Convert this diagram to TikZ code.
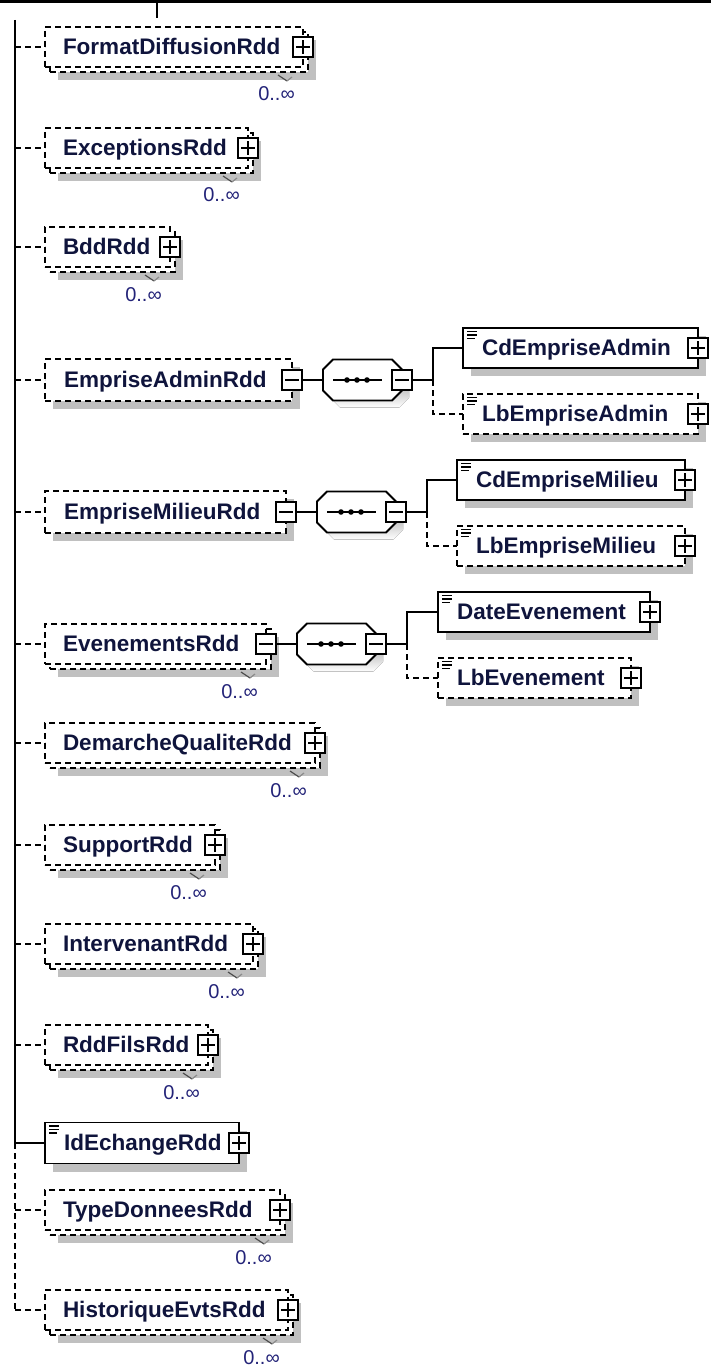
\documentclass[tikz,border=0pt]{standalone}
\usepackage{fontspec}
\setmainfont{Liberation Sans}
\usetikzlibrary{calc}
\definecolor{txt}{RGB}{15,20,60}
\definecolor{multc}{RGB}{35,35,120}
\definecolor{shade}{RGB}{192,192,192}
\tikzset{
 box/.style={draw=black, fill=white, line width=1.8pt, inner sep=0pt, outer sep=0pt, rectangle},
 dbox/.style={box, dash pattern=on 6pt off 4pt},
 sbox/.style={fill=shade, draw=none, inner sep=0pt, outer sep=0pt, rectangle},
 lbl/.style={font=\bfseries\fontsize{22.5}{26}\selectfont, text=txt, inner sep=0pt, outer sep=0pt, text height=19pt, text depth=4pt},
 multlbl/.style={font=\fontsize{20}{22}\selectfont, text=multc, inner sep=0pt, text height=14pt, text depth=0pt},
 btn/.style={draw=black, fill=white, line width=1.6pt, minimum size=20pt, inner sep=0pt, outer sep=0pt, rectangle},
 minusbtn/.style={btn, path picture={\draw[line width=1.5pt] ([xshift=-7pt]path picture bounding box.center) -- ([xshift=7pt]path picture bounding box.center);}},
 plusbtn/.style={btn, path picture={\draw[line width=1.5pt] ([xshift=-7pt]path picture bounding box.center) -- ([xshift=7pt]path picture bounding box.center); \draw[line width=1.5pt] ([yshift=-7pt]path picture bounding box.center) -- ([yshift=7pt]path picture bounding box.center);}},
 conn/.style={line width=2pt},
 dconn/.style={conn, dash pattern=on 6pt off 4pt},
 spinew/.style={line width=2.4pt},
}
% multi-occurrence element: name, L, R, c, text, button style
\newcommand\multielem[6]{%
 \pgfmathsetmacro\elW{#3-#2}\pgfmathsetmacro\elX{(#2+#3)/2}%
 \node[sbox,minimum width=\elW pt,minimum height=40pt] (#1-sh) at (\elX+13,#4+13) {};
 \node[dbox,minimum width=\elW pt,minimum height=40pt] (#1-bk) at (\elX+5,#4+5) {};
 \node[dbox,minimum width=\elW pt,minimum height=40pt] (#1) at (\elX,#4) {};
 \node[lbl,anchor=west] (#1-t) at (#2+18,#4) {#5};
 \node[#6] (#1-b) at (#1.east) {};
 \node[multlbl,anchor=east] (#1-m) at (#3-8,#4+47) {0..∞};
 \draw[line width=1.2pt, black!70] ([shift={(-30,3)}]#1-bk.south east) -- ([shift={(-21,9)}]#1-bk.south east);
 \draw[line width=1.2pt, black!45] ([shift={(-21,9)}]#1-bk.south east) -- ([shift={(-16,5)}]#1-bk.south east);
}
% single element: name, L, R, c, text, box style, button style, height
\newcommand\singleelem[8]{%
 \pgfmathsetmacro\elW{#3-#2}\pgfmathsetmacro\elX{(#2+#3)/2}%
 \node[sbox,minimum width=\elW pt,minimum height=#8pt] (#1-sh) at (\elX+8,#4+8) {};
 \node[#6,minimum width=\elW pt,minimum height=#8pt] (#1) at (\elX,#4) {};
 \node[lbl,anchor=west] (#1-t) at (#2+19,#4) {#5};
 \node[#7] (#1-b) at (#1.east) {};
}
\newcommand\simpleicon[1]{%
 \draw[line width=1.1pt] ([shift={(4,3.5)}]#1.north west) -- ++(10,0);
 \draw[line width=1.1pt] ([shift={(4,7)}]#1.north west) -- ++(10,0);
 \draw[line width=1.1pt] ([shift={(4,10.5)}]#1.north west) -- ++(8,0);
}
\newcommand\octpath[3]{([shift={(10+#2,#3)}]#1.north west) -- ([shift={(-10+#2,#3)}]#1.north east) -- ([shift={(#2,10+#3)}]#1.north east) -- ([shift={(#2,-10+#3)}]#1.south east) -- ([shift={(-10+#2,#3)}]#1.south east) -- ([shift={(10+#2,#3)}]#1.south west) -- ([shift={(#2,-10+#3)}]#1.south west) -- ([shift={(#2,10+#3)}]#1.north west) -- cycle}
% sequence compositor: name, left x, c
\newcommand\seqcomp[3]{%
 \node[inner sep=0pt, outer sep=0pt, minimum width=79pt, minimum height=41pt] (#1) at (#2+39.5,#3) {};
 \fill[shade] \octpath{#1}{7}{7};
 \draw[line width=1.8pt, fill=white] \octpath{#1}{0}{0};
 \draw[line width=1.8pt] ([xshift=10pt]#1.west) -- ([xshift=59pt]#1.west);
 \fill ([xshift=24pt]#1.west) circle (2.8pt);
 \fill ([xshift=34pt]#1.west) circle (2.8pt);
 \fill ([xshift=44pt]#1.west) circle (2.8pt);
 \node[minusbtn] (#1-b) at (#1.east) {};
}
\begin{document}
\begin{tikzpicture}[x=1pt,y=-1pt]
\useasboundingbox (0,0) rectangle (711,1372);
% parent fragment at top
\node[fill=black, draw=none, minimum width=711pt, minimum height=2.8pt, inner sep=0pt, outer sep=0pt, anchor=north west] (parent) at (0,0) {};
\coordinate (ptick) at (157,18);
\draw[conn] (parent.south -| ptick) -- (ptick);
% spine
\coordinate (spine) at (15,20);
\coordinate (spinemid) at (15,1143);
\coordinate (spineend) at (15,1310);
\draw[spinew] (spine) -- (spinemid);
\draw[conn, dash pattern=on 6pt off 4pt] (spinemid) -- (spineend);

\multielem{fmt}{45}{303}{47}{FormatDiffusionRdd}{plusbtn}
\multielem{exc}{45}{248}{148}{ExceptionsRdd}{plusbtn}
\multielem{bdd}{45}{170}{247}{BddRdd}{plusbtn}
\singleelem{adm}{45}{292}{380}{EmpriseAdminRdd}{dbox}{minusbtn}{42}
\singleelem{mil}{45}{286}{512}{EmpriseMilieuRdd}{dbox}{minusbtn}{42}
\multielem{evt}{45}{266}{644}{EvenementsRdd}{minusbtn}
\multielem{dq}{45}{315}{743}{DemarcheQualiteRdd}{plusbtn}
\multielem{sup}{45}{215}{845}{SupportRdd}{plusbtn}
\multielem{int}{45}{253}{944}{IntervenantRdd}{plusbtn}
\multielem{rf}{45}{208}{1045}{RddFilsRdd}{plusbtn}
\singleelem{id}{45}{239}{1143}{IdEchangeRdd}{box}{plusbtn}{41}
\simpleicon{id}
\multielem{td}{45}{280}{1210}{TypeDonneesRdd}{plusbtn}
\multielem{he}{45}{288}{1310}{HistoriqueEvtsRdd}{plusbtn}

% connectors from spine
\foreach \n in {fmt,exc,bdd,adm,mil,evt,dq,sup,int,rf,td,he}{
  \draw[dconn] (spine |- \n.west) -- (\n.west);
}
\draw[conn] (spine |- id.west) -- (id.west);

% compositors
\seqcomp{admseq}{323}{380}
\seqcomp{milseq}{317}{512}
\seqcomp{evtseq}{297}{644}
\draw[conn] (adm-b.east) -- (admseq.west);
\draw[conn] (mil-b.east) -- (milseq.west);
\draw[conn] (evt-b.east) -- (evtseq.west);

% children
\singleelem{cda}{463}{698}{348}{CdEmpriseAdmin}{box}{plusbtn}{40}
\simpleicon{cda}
\singleelem{lba}{463}{698}{414}{LbEmpriseAdmin}{dbox}{plusbtn}{40}
\simpleicon{lba}
\singleelem{cdm}{457}{685}{480}{CdEmpriseMilieu}{box}{plusbtn}{40}
\simpleicon{cdm}
\singleelem{lbm}{457}{685}{546}{LbEmpriseMilieu}{dbox}{plusbtn}{40}
\simpleicon{lbm}
\singleelem{dte}{438}{650}{612}{DateEvenement}{box}{plusbtn}{40}
\simpleicon{dte}
\singleelem{lbe}{438}{631}{678}{LbEvenement}{dbox}{plusbtn}{40}
\simpleicon{lbe}

\coordinate (admbr) at ($(admseq-b.east)+(21,0)$);
\coordinate (milbr) at ($(milseq-b.east)+(21,0)$);
\coordinate (evtbr) at ($(evtseq-b.east)+(21,0)$);
\draw[conn] (admseq-b.east) -- (admbr) |- (cda.west);
\draw[dconn] (admbr) |- (lba.west);
\draw[conn] (milseq-b.east) -- (milbr) |- (cdm.west);
\draw[dconn] (milbr) |- (lbm.west);
\draw[conn] (evtseq-b.east) -- (evtbr) |- (dte.west);
\draw[dconn] (evtbr) |- (lbe.west);
\end{tikzpicture}
\end{document}
